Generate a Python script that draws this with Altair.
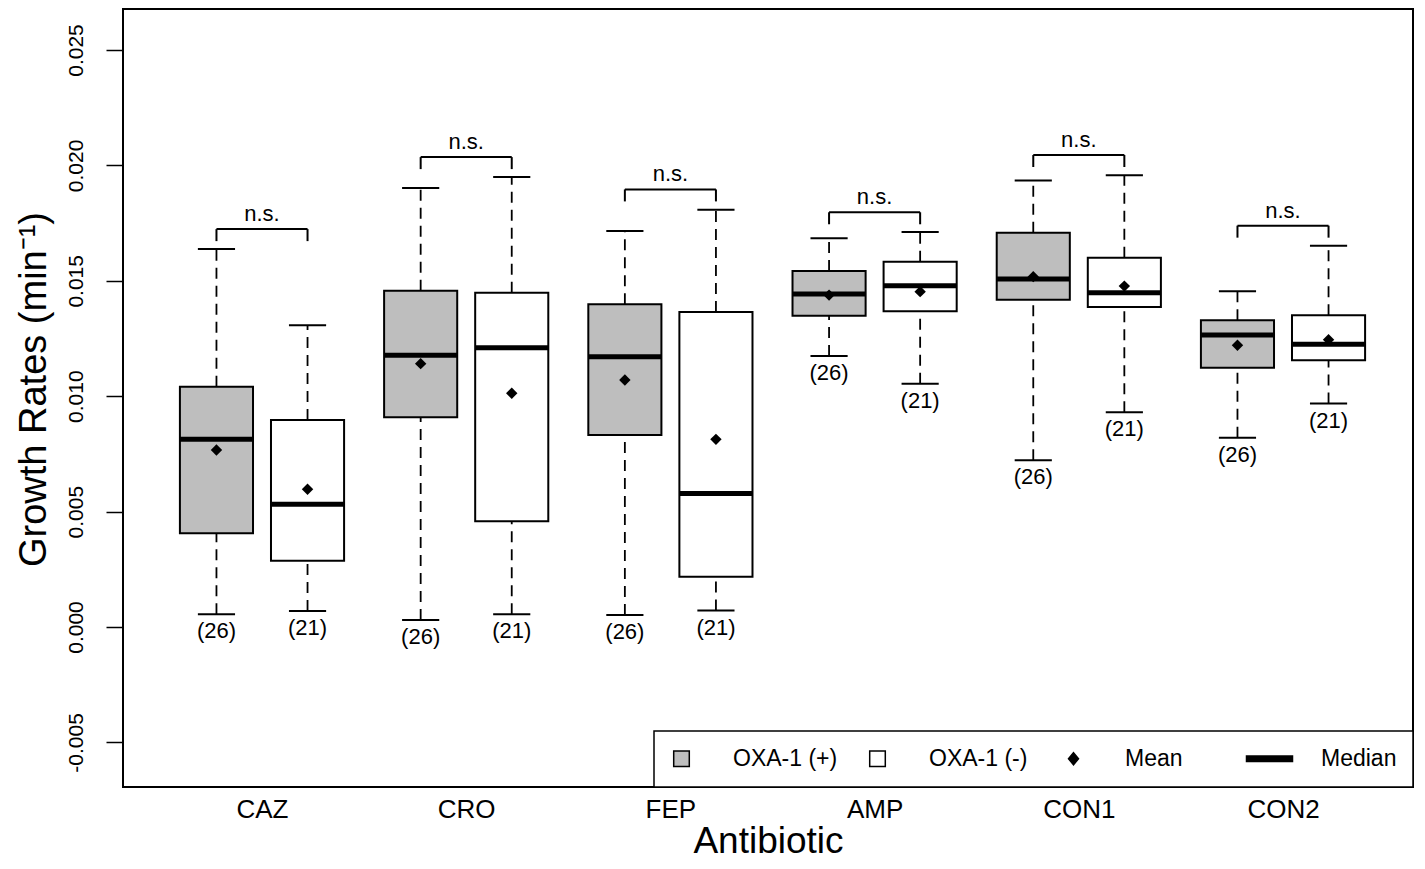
import json
import altair as alt
import pandas as pd

# ---------------- data ----------------
antibiotics = ["CAZ", "CRO", "FEP", "AMP", "CON1", "CON2"]
groups = ["OXA-1 (+)", "OXA-1 (-)"]
n_pos, n_neg = 26, 21

# OXA-1 (+)
pos_lo = [0.00055, 0.00030, 0.00052, 0.01174, 0.00722, 0.00820]
pos_q1 = [0.00406, 0.00909, 0.00832, 0.01349, 0.01418, 0.01123]
pos_med = [0.00813, 0.01178, 0.01171, 0.01443, 0.01508, 0.01265]
pos_q3 = [0.01041, 0.01457, 0.01398, 0.01542, 0.01708, 0.01329]
pos_hi = [0.01638, 0.01902, 0.01716, 0.01684, 0.01935, 0.01455]
pos_mean = [0.00767, 0.01141, 0.01070, 0.01438, 0.01518, 0.01221]

# OXA-1 (-)
neg_lo = [0.00069, 0.00055, 0.00071, 0.01054, 0.00930, 0.00968]
neg_q1 = [0.00287, 0.00458, 0.00218, 0.01368, 0.01386, 0.01156]
neg_med = [0.00532, 0.01210, 0.00579, 0.01479, 0.01448, 0.01225]
neg_q3 = [0.00897, 0.01448, 0.01365, 0.01583, 0.01600, 0.01351]
neg_hi = [0.01307, 0.01950, 0.01808, 0.01711, 0.01957, 0.01652]
neg_mean = [0.00597, 0.01013, 0.00813, 0.01453, 0.01477, 0.01245]

# significance brackets
bracket_y = [0.01724, 0.02036, 0.01896, 0.01797, 0.02045, 0.01739]
sig_text = ["n.s.", "n.s.", "n.s.", "n.s.", "n.s.", "n.s."]

y_ticks = [-0.005, 0.0, 0.005, 0.010, 0.015, 0.020, 0.025]
legend_items = ["OXA-1 (+)", "OXA-1 (-)", "Mean", "Median"]

# ---------------- layout constants ----------------
OFFSET = 0.223
BOX_HALF = 0.179
CAP_HALF = 0.091
LEG = 0.00052
FONT = "Liberation Sans, Arial, Helvetica, sans-serif"
GRAY = "#bebebe"

rows = []
for i, ab in enumerate(antibiotics):
    for g, (lo, q1, me, q3, hi, mn, n, off, col) in enumerate([
        (pos_lo[i], pos_q1[i], pos_med[i], pos_q3[i], pos_hi[i], pos_mean[i], n_pos, -OFFSET, GRAY),
        (neg_lo[i], neg_q1[i], neg_med[i], neg_q3[i], neg_hi[i], neg_mean[i], n_neg, OFFSET, "white"),
    ]):
        p = i + 1 + off
        rows.append(dict(antibiotic=ab, group=groups[g], pos=p,
                         left=p - BOX_HALF, right=p + BOX_HALF,
                         capL=p - CAP_HALF, capR=p + CAP_HALF,
                         lo=lo, q1=q1, med=me, q3=q3, hi=hi, mean=mn,
                         nlabel=f"({n})", fill=col, bracket=bracket_y[i],
                         legbot=bracket_y[i] - LEG))
df = pd.DataFrame(rows)

br = pd.DataFrame(dict(antibiotic=antibiotics,
                       center=[i + 1 for i in range(len(antibiotics))],
                       xl=[i + 1 - OFFSET for i in range(len(antibiotics))],
                       xr=[i + 1 + OFFSET for i in range(len(antibiotics))],
                       y=bracket_y, txt=sig_text))

leg_df = pd.DataFrame(dict(item=legend_items, x=[1.0] * 4, y=[0.0] * 4))

# ---------------- scales & axes ----------------
x_domain = [0.3193, 6.6366]
y_domain = [-0.006932, 0.026777]

label_expr_x = json.dumps(antibiotics) + "[datum.value - 1]"
x_axis = alt.Axis(values=[1, 2, 3, 4, 5, 6], labelExpr=label_expr_x, ticks=False, tickSize=0,
                  domain=False, grid=False, labelPadding=9, labelFontSize=26, labelFont=FONT,
                  labelColor="black", title="Antibiotic", titleFont=FONT, titleFontSize=37,
                  titleFontWeight="normal", titleColor="black", titleY=65,
                  titleBaseline="alphabetic")
y_axis = alt.Axis(values=y_ticks,
                  labelExpr="datum.value < 0 ? '-' + format(-datum.value, '.3f') : format(datum.value, '.3f')",
                  labelAngle=270, labelAlign="center", labelBaseline="alphabetic",
                  labelPadding=24, labelFontSize=21, labelFont=FONT, labelColor="black",
                  labelOverlap=False, tickSize=17, tickWidth=1.5, tickColor="black",
                  domain=False, grid=False, title="Growth Rates (min\u207b\u00b9)",
                  titleFont=FONT, titleFontSize=38, titleFontWeight="normal", titleColor="black",
                  titleAngle=270, titleAlign="center", titleBaseline="alphabetic",
                  titleX=-78, titleY=380)

xs = alt.Scale(domain=x_domain, nice=False, zero=False)
ys = alt.Scale(domain=y_domain, nice=False, zero=False)


def X(f):
    return alt.X(f, type="quantitative", scale=xs, axis=x_axis)


def Y(f):
    return alt.Y(f, type="quantitative", scale=ys, axis=y_axis)


base = alt.Chart(df)

whisk_up = base.mark_rule(color="black", strokeWidth=1.8, strokeDash=[11, 7]).encode(
    x=X("pos"), y=Y("q3"), y2="hi")
whisk_dn = base.mark_rule(color="black", strokeWidth=1.8, strokeDash=[11, 7]).encode(
    x=X("pos"), y=Y("lo"), y2="q1")
cap_hi = base.mark_rule(color="black", strokeWidth=2).encode(x=X("capL"), x2="capR", y=Y("hi"))
cap_lo = base.mark_rule(color="black", strokeWidth=2).encode(x=X("capL"), x2="capR", y=Y("lo"))
boxes = base.mark_rect(stroke="black", strokeWidth=2).encode(
    x=X("left"), x2="right", y=Y("q1"), y2="q3",
    fill=alt.Fill("fill:N", scale=None))
medians = base.mark_rule(color="black", strokeWidth=5).encode(x=X("left"), x2="right", y=Y("med"))
means = base.mark_point(shape="diamond", filled=True, color="black", size=130, opacity=1).encode(
    x=X("pos"), y=Y("mean"))
nlab = base.mark_text(baseline="top", dy=7, fontSize=22, font=FONT, color="black").encode(
    x=X("pos"), y=Y("lo"), text="nlabel:N")

legs = base.mark_rule(color="black", strokeWidth=2).encode(x=X("pos"), y=Y("legbot"), y2="bracket")
bar = alt.Chart(br).mark_rule(color="black", strokeWidth=2).encode(x=X("xl"), x2="xr", y=Y("y"))
ns = alt.Chart(br).mark_text(baseline="alphabetic", dy=-8, fontSize=22, font=FONT, color="black").encode(
    x=X("center"), y=Y("y"), text="txt:N")

shape_paths = [
    "M-0.78,-0.78H0.78V0.78H-0.78Z",
    "M-0.78,-0.78H0.78V0.78H-0.78Z",
    "M0,-0.6L0.5,0L0,0.6L-0.5,0Z",
    "M-2.3,-0.28H2.3V0.28H-2.3Z",
]
legend = alt.Legend(title=None, orient="bottom-right", direction="horizontal", columns=4,
                    offset=0, padding=16, fillColor="white", strokeColor="black",
                    labelFont=FONT, labelFontSize=23, labelColor="black",
                    labelOffset=40, columnPadding=13, gridAlign="all",
                    symbolSize=400, symbolStrokeColor="black", symbolStrokeWidth=1.5)
leg_layer = alt.Chart(leg_df).mark_point(filled=True, opacity=0, size=400,
                                          stroke="black", strokeWidth=1.5).encode(
    x=X("x"), y=Y("y"),
    fill=alt.Fill("item:N", scale=alt.Scale(domain=legend_items,
                                            range=[GRAY, "white", "black", "black"]),
                  legend=legend),
    shape=alt.Shape("item:N", scale=alt.Scale(domain=legend_items, range=shape_paths),
                    legend=legend),
)

chart = alt.layer(
    whisk_up, whisk_dn, cap_hi, cap_lo, boxes, medians, means, nlab, legs, bar, ns, leg_layer
).properties(
    width=1290, height=778,
    autosize=alt.AutoSizeParams(type="none"),
    padding={"left": 115, "top": 1, "right": 4, "bottom": 74},
    background="white",
).configure_view(
    stroke="black", strokeWidth=2
).configure_legend(
    strokeWidth=1.5
)

chart.save("out.html", embed_options={"renderer": "svg", "actions": False})
